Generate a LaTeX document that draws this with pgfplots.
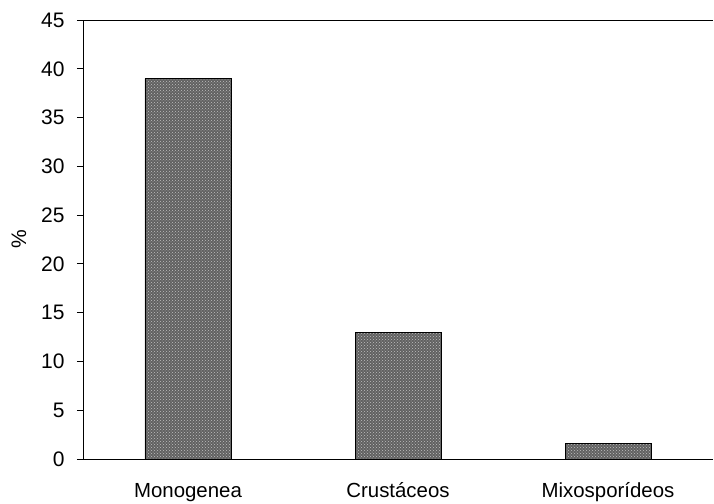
\documentclass[border=0pt]{standalone}
\usepackage{pgfplots}
\pgfplotsset{compat=1.18}
\usetikzlibrary{patterns}
\usepackage{fontspec}
\setmainfont{Liberation Sans}
\begin{document}
\begin{tikzpicture}
\begin{axis}[
  name=ax,
  scale only axis,
  width=630pt, height=439pt,
  xmin=-0.5, xmax=2.5,
  ymin=0, ymax=45,
  ytick={0,5,...,45},
  axis lines*=left,
  axis line style={black, line width=0.8pt},
  xtick={0,1,2},
  xticklabels={Monogenea,Crustáceos,Mixosporídeos},
  x tick style={draw=none},
  extra x ticks={-0.5,0.5,1.5},
  extra x tick labels={},
  extra x tick style={major tick length=6pt, tick style={draw=black, line width=0.8pt}, tick align=outside},
  y tick style={black, line width=0.8pt},
  tick align=outside,
  major tick length=6pt,
  yticklabel style={font=\fontsize{21}{24}\selectfont, xshift=-9pt},
  xticklabel style={font=\fontsize{20.4}{24}\selectfont, text height=15pt, text depth=4pt, yshift=-14pt},
  /pgf/number format/assume math mode=true,
  ylabel={\%},
  every axis y label/.style={at={(axis description cs:0,0.5)}, xshift=-64pt, rotate=90, anchor=center, font=\fontsize{21}{24}\selectfont},
  clip=false,
]
\addplot[ybar, bar width=86pt, draw=black, line width=0.9pt, fill=black!62,
  postaction={pattern=crosshatch dots, pattern color=black!25}]
  coordinates {(0,39) (1,13) (2,1.6)};
\draw[black, line width=0.8pt] (rel axis cs:0,1) -- (rel axis cs:1,1);
\end{axis}
\pgfresetboundingbox
\path ([xshift=-83pt,yshift=-44pt]ax.south west) rectangle ([xshift=1pt,yshift=20pt]ax.north east);
\end{tikzpicture}
\end{document}
